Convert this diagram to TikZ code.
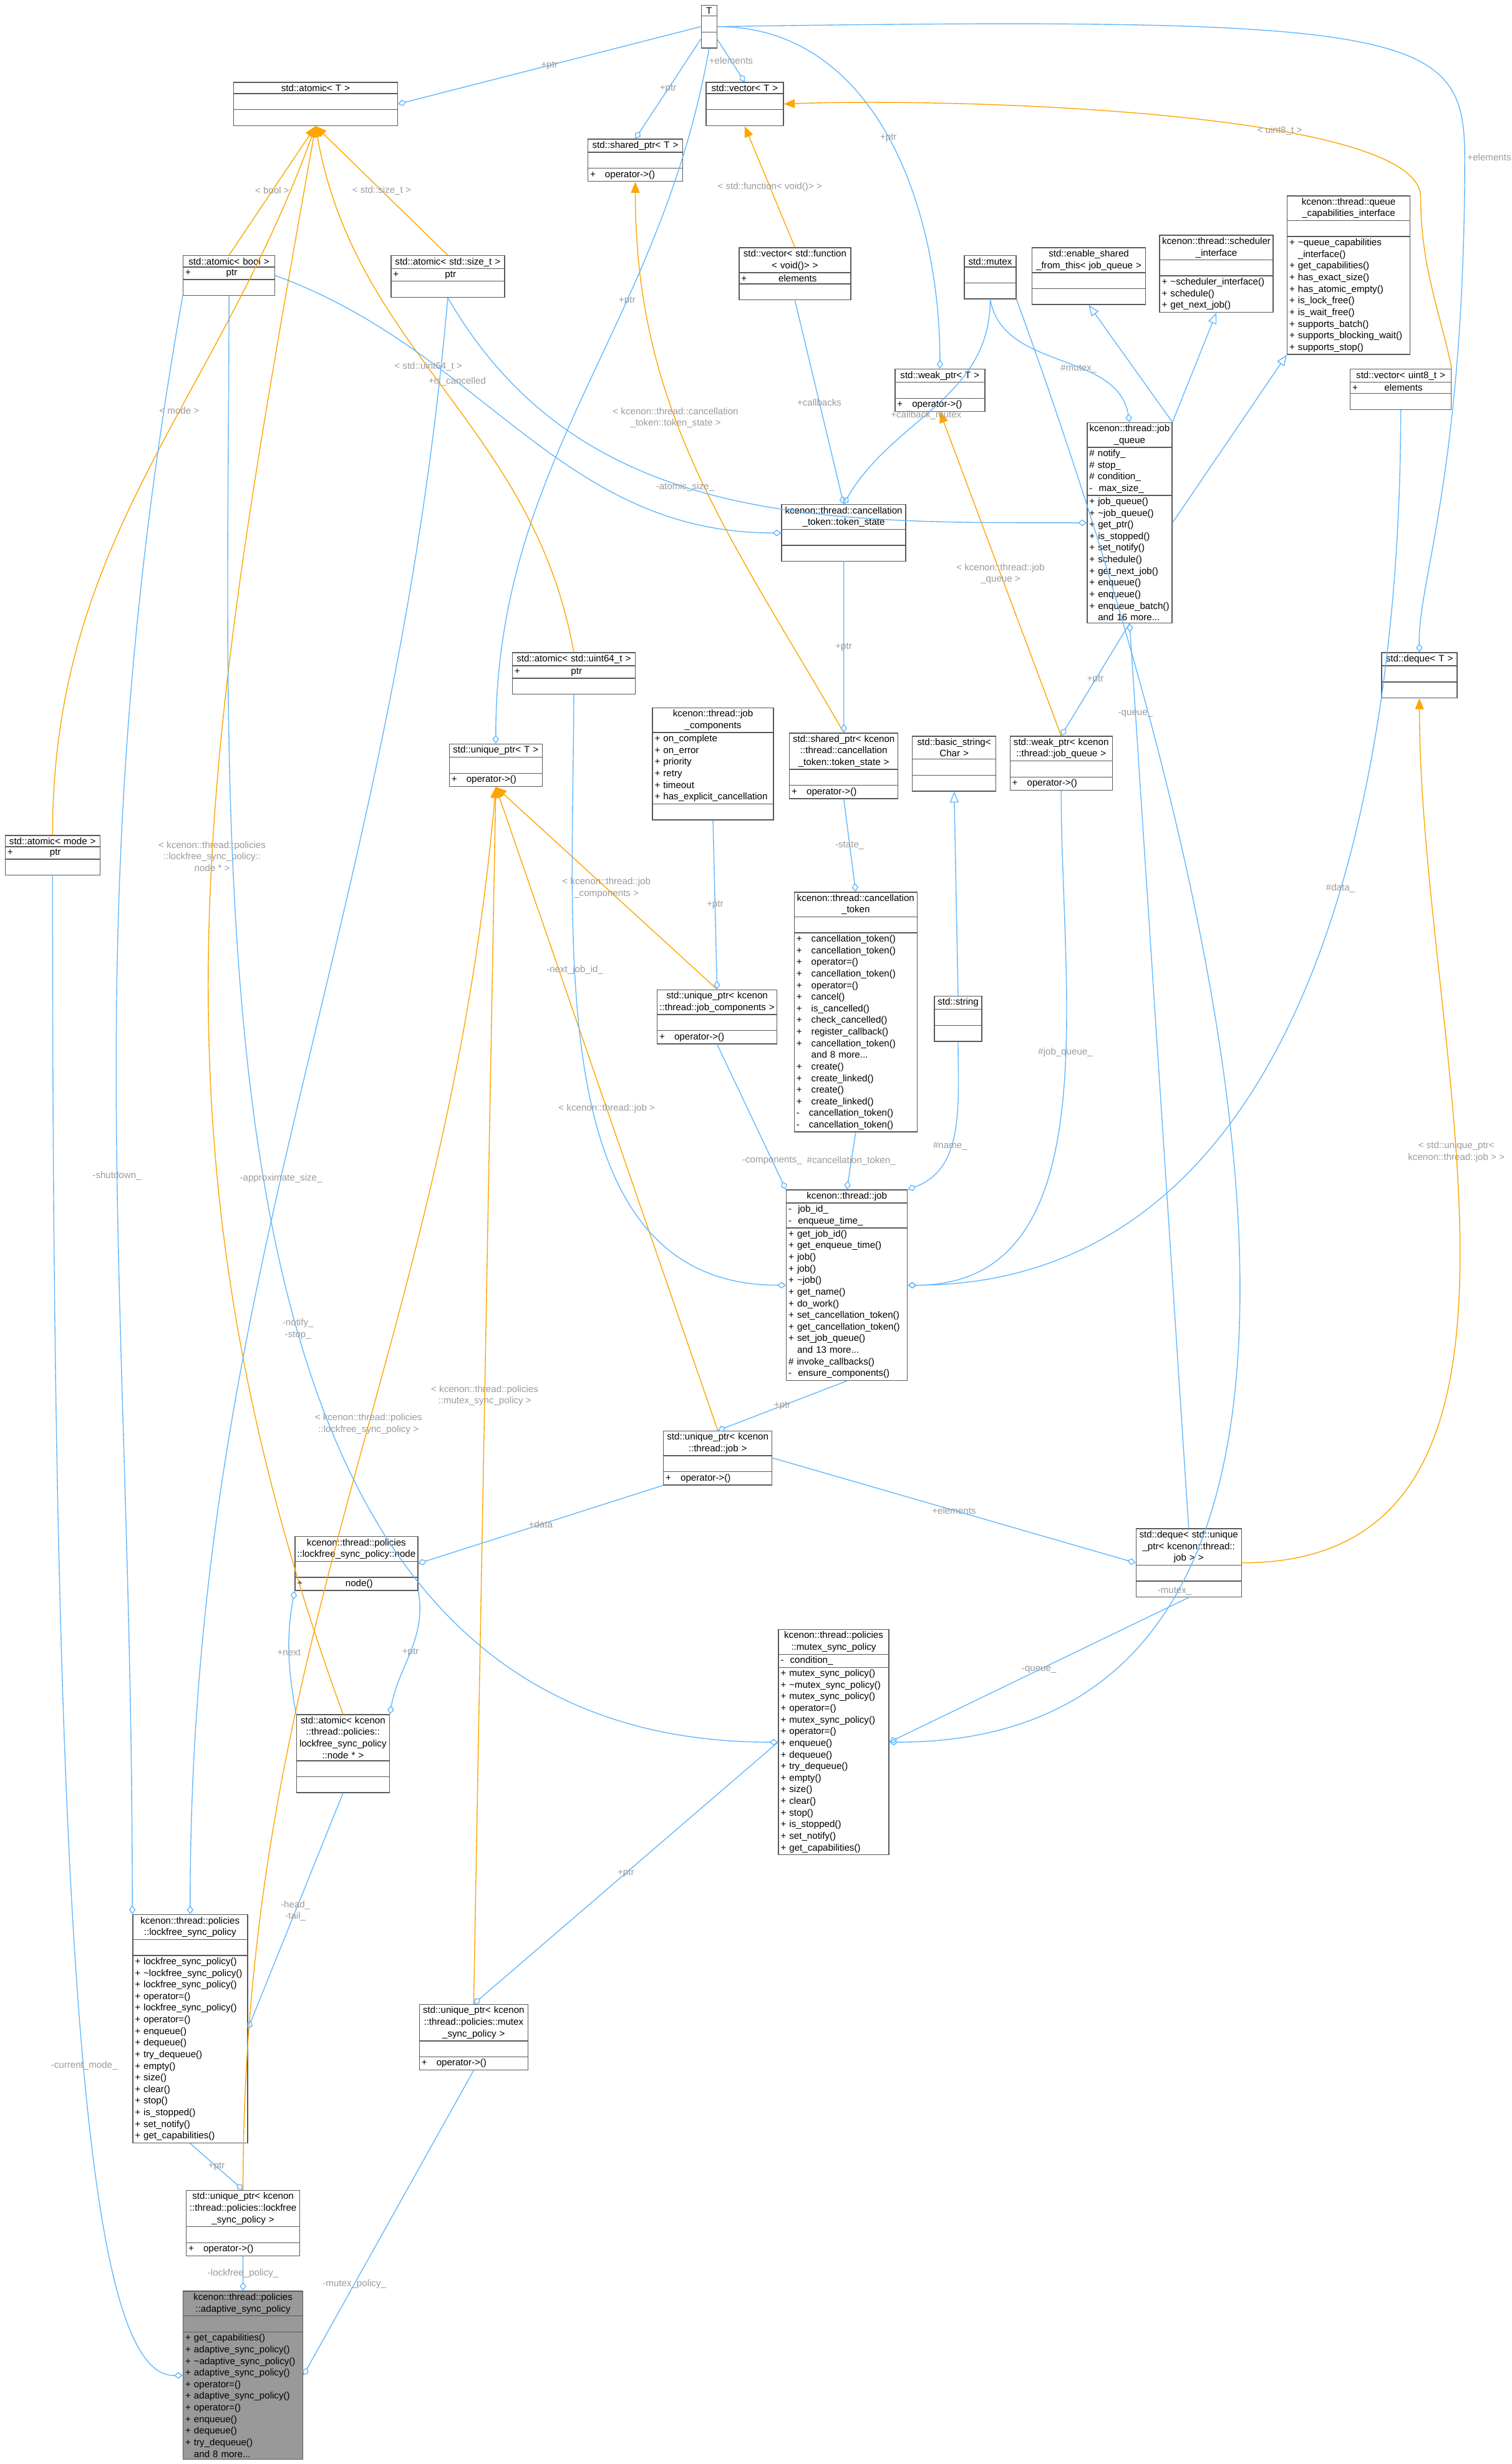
\documentclass[tikz,border=0pt]{standalone}
\usepackage{fontspec}
\setmainfont{Liberation Sans}
\usetikzlibrary{shapes.multipart,arrows.meta}
\definecolor{edgeblue}{HTML}{63B8FF}
\definecolor{edgeorange}{HTML}{FFA500}
\definecolor{lblgrey}{HTML}{9A9A9A}
\tikzset{
  cls/.style={rectangle split, rectangle split parts=3, draw=black!65, fill=white,
    anchor=north west, inner xsep=1pt, inner ysep=0.8pt,
    font=\fontsize{4.3}{5.3}\selectfont},
  has/.style={draw=edgeblue, -{Diamond[open,length=4pt,width=3pt]}},
  inst/.style={draw=edgeorange, -{Triangle[length=5pt,width=4pt]}},
  isa/.style={draw=edgeblue, -{Triangle[open,length=5pt,width=4pt]}},
  lbl/.style={text=lblgrey, font=\fontsize{4.3}{5.3}\selectfont, align=center, inner sep=1pt}
}
\begin{document}
\begin{tikzpicture}[x=0.02525cm,y=-0.02525cm]
  \useasboundingbox (0,0) rectangle (960,1564);
  % classes
  \node[cls,text width=0.18cm] (T) at (445,3) {\centering T\par\nodepart{second}\strut\nodepart{third}\strut};
  \node[cls,text width=2.56cm] (atomT) at (148,52) {\centering std::atomic< T >\par\nodepart{second}\strut\nodepart{third}\strut};
  \node[cls,text width=1.17cm] (vecT) at (448,52) {\centering std::vector< T >\par\nodepart{second}\strut\nodepart{third}\strut};
  \node[cls,text width=1.45cm] (shT) at (373,88) {\centering std::shared\_ptr< T >\par\nodepart{second}\strut\nodepart{third}+\quad operator->()};
  \node[cls,text width=1.40cm] (atBool) at (116,162) {\centering std::atomic< bool >\par\nodepart{second}+\hfill ptr\hfill\null\nodepart{third}\strut};
  \node[cls,text width=1.75cm] (atSize) at (248,162) {\centering std::atomic< std::size\_t >\par\nodepart{second}+\hfill ptr\hfill\null\nodepart{third}\strut};
  \node[cls,text width=1.72cm] (vecFn) at (469,157) {\centering std::vector< std::function\\< void()> >\par\nodepart{second}+\hfill elements\hfill\null\nodepart{third}\strut};
  \node[cls,text width=0.76cm] (mutex) at (612,162) {\centering std::mutex\par\nodepart{second}\strut\nodepart{third}\strut};
  \node[cls,text width=1.75cm] (esft) at (655,157) {\centering std::enable\_shared\\\_from\_this< job\_queue >\par\nodepart{second}\strut\nodepart{third}\strut};
  \node[cls,text width=1.75cm] (sched) at (736,149) {\centering kcenon::thread::scheduler\\\_interface\par\nodepart{second}\strut\nodepart{third}+ \textasciitilde scheduler\_interface()\\+ schedule()\\+ get\_next\_job()};
  \node[cls,text width=1.90cm] (qcap) at (817,124) {\centering kcenon::thread::queue\\\_capabilities\_interface\par\nodepart{second}\strut\nodepart{third}+ \textasciitilde queue\_capabilities\\\hphantom{+ }\_interface()\\+ get\_capabilities()\\+ has\_exact\_size()\\+ has\_atomic\_empty()\\+ is\_lock\_free()\\+ is\_wait\_free()\\+ supports\_batch()\\+ supports\_blocking\_wait()\\+ supports\_stop()};
  \node[cls,text width=1.55cm] (vecU8) at (857,234) {\centering std::vector< uint8\_t >\par\nodepart{second}+\hfill elements\hfill\null\nodepart{third}\strut};
  \node[cls,text width=1.37cm] (wpT) at (568,234) {\centering std::weak\_ptr< T >\par\nodepart{second}\strut\nodepart{third}+\quad operator->()};
  \node[cls,text width=1.29cm] (jq) at (690,268) {\centering kcenon::thread::job\\\_queue\par\nodepart{second}\# notify\_\\\# stop\_\\\# condition\_\\- \ max\_size\_\nodepart{third}+ job\_queue()\\+ \textasciitilde job\_queue()\\+ get\_ptr()\\+ is\_stopped()\\+ set\_notify()\\+ schedule()\\+ get\_next\_job()\\+ enqueue()\\+ enqueue()\\+ enqueue\_batch()\\\hphantom{+ }and 16 more...};
  \node[cls,text width=1.92cm] (tstate) at (496,320) {\centering kcenon::thread::cancellation\\\_token::token\_state\par\nodepart{second}\strut\nodepart{third}\strut};
  \node[cls,text width=1.90cm] (atU64) at (325,414) {\centering std::atomic< std::uint64\_t >\par\nodepart{second}+\hfill ptr\hfill\null\nodepart{third}\strut};
  \node[cls,text width=1.14cm] (dqT) at (877,414) {\centering std::deque< T >\par\nodepart{second}\strut\nodepart{third}\strut};
  \node[cls,text width=1.87cm] (jcomp) at (414,449) {\centering kcenon::thread::job\\\_components\par\nodepart{second}+ on\_complete\\+ on\_error\\+ priority\\+ retry\\+ timeout\\+ has\_explicit\_cancellation\nodepart{third}\strut};
  \node[cls,text width=1.42cm] (upT) at (285,472) {\centering std::unique\_ptr< T >\par\nodepart{second}\strut\nodepart{third}+\quad operator->()};
  \node[cls,text width=1.67cm] (spTs) at (501,465) {\centering std::shared\_ptr< kcenon\\::thread::cancellation\\\_token::token\_state >\par\nodepart{second}\strut\nodepart{third}+\quad operator->()};
  \node[cls,text width=1.27cm] (bstr) at (579,467) {\centering std::basic\_string<\\Char >\par\nodepart{second}\strut\nodepart{third}\strut};
  \node[cls,text width=1.57cm] (wpJq) at (641,467) {\centering std::weak\_ptr< kcenon\\::thread::job\_queue >\par\nodepart{second}\strut\nodepart{third}+\quad operator->()};
  \node[cls,text width=1.45cm] (atMode) at (3,530) {\centering std::atomic< mode >\par\nodepart{second}+\hfill ptr\hfill\null\nodepart{third}\strut};
  \node[cls,text width=1.90cm] (ctok) at (504,566) {\centering kcenon::thread::cancellation\\\_token\par\nodepart{second}\strut\nodepart{third}+\quad cancellation\_token()\\+\quad cancellation\_token()\\+\quad operator=()\\+\quad cancellation\_token()\\+\quad operator=()\\+\quad cancel()\\+\quad is\_cancelled()\\+\quad check\_cancelled()\\+\quad register\_callback()\\+\quad cancellation\_token()\\\hphantom{+\quad }and 8 more...\\+\quad create()\\+\quad create\_linked()\\+\quad create()\\+\quad create\_linked()\\-\quad cancellation\_token()\\-\quad cancellation\_token()};
  \node[cls,text width=1.85cm] (upJc) at (417,628) {\centering std::unique\_ptr< kcenon\\::thread::job\_components >\par\nodepart{second}\strut\nodepart{third}+\quad operator->()};
  \node[cls,text width=0.69cm] (str) at (593,632) {\centering std::string\par\nodepart{second}\strut\nodepart{third}\strut};
  \node[cls,text width=1.87cm] (job) at (499,755) {\centering kcenon::thread::job\par\nodepart{second}- \ job\_id\_\\- \ enqueue\_time\_\nodepart{third}+ get\_job\_id()\\+ get\_enqueue\_time()\\+ job()\\+ job()\\+ \textasciitilde job()\\+ get\_name()\\+ do\_work()\\+ set\_cancellation\_token()\\+ get\_cancellation\_token()\\+ set\_job\_queue()\\\hphantom{+ }and 13 more...\\\# invoke\_callbacks()\\- \ ensure\_components()};
  \node[cls,text width=1.67cm] (upJob) at (421,908) {\centering std::unique\_ptr< kcenon\\::thread::job >\par\nodepart{second}\strut\nodepart{third}+\quad operator->()};
  \node[cls,text width=1.90cm] (node) at (187,975) {\centering kcenon::thread::policies\\::lockfree\_sync\_policy::node\par\nodepart{second}\strut\nodepart{third}+\hfill node()\hfill\null};
  \node[cls,text width=1.62cm] (dqJob) at (721,970) {\centering std::deque< std::unique\\\_ptr< kcenon::thread::\\job > >\par\nodepart{second}\strut\nodepart{third}\strut};
  \node[cls,text width=1.70cm] (msp) at (494,1034) {\centering kcenon::thread::policies\\::mutex\_sync\_policy\par\nodepart{second}- \ condition\_\nodepart{third}+ mutex\_sync\_policy()\\+ \textasciitilde mutex\_sync\_policy()\\+ mutex\_sync\_policy()\\+ operator=()\\+ mutex\_sync\_policy()\\+ operator=()\\+ enqueue()\\+ dequeue()\\+ try\_dequeue()\\+ empty()\\+ size()\\+ clear()\\+ stop()\\+ is\_stopped()\\+ set\_notify()\\+ get\_capabilities()};
  \node[cls,text width=1.42cm] (atNode) at (188,1088) {\centering std::atomic< kcenon\\::thread::policies::\\lockfree\_sync\_policy\\::node * >\par\nodepart{second}\strut\nodepart{third}\strut};
  \node[cls,text width=1.77cm] (lsp) at (84,1215) {\centering kcenon::thread::policies\\::lockfree\_sync\_policy\par\nodepart{second}\strut\nodepart{third}+ lockfree\_sync\_policy()\\+ \textasciitilde lockfree\_sync\_policy()\\+ lockfree\_sync\_policy()\\+ operator=()\\+ lockfree\_sync\_policy()\\+ operator=()\\+ enqueue()\\+ dequeue()\\+ try\_dequeue()\\+ empty()\\+ size()\\+ clear()\\+ stop()\\+ is\_stopped()\\+ set\_notify()\\+ get\_capabilities()};
  \node[cls,text width=1.67cm] (upMsp) at (266,1272) {\centering std::unique\_ptr< kcenon\\::thread::policies::mutex\\\_sync\_policy >\par\nodepart{second}\strut\nodepart{third}+\quad operator->()};
  \node[cls,text width=1.75cm] (upLsp) at (118,1390) {\centering std::unique\_ptr< kcenon\\::thread::policies::lockfree\\\_sync\_policy >\par\nodepart{second}\strut\nodepart{third}+\quad operator->()};
  \node[cls,text width=1.85cm,fill=black!40] (asp) at (116,1454) {\centering kcenon::thread::policies\\::adaptive\_sync\_policy\par\nodepart{second}\strut\nodepart{third}+ get\_capabilities()\\+ adaptive\_sync\_policy()\\+ \textasciitilde adaptive\_sync\_policy()\\+ adaptive\_sync\_policy()\\+ operator=()\\+ adaptive\_sync\_policy()\\+ operator=()\\+ enqueue()\\+ dequeue()\\+ try\_dequeue()\\\hphantom{+ }and 8 more...};
  \coordinate (tbend) at (930,100);
  \coordinate (ubend) at (902,125);

  % template parameter T
  \draw[has] (T.west) -- node[lbl]{+ptr} (atomT.east);
  \draw[has] (T) -- node[lbl]{+ptr} (shT.north);
  \draw[has] (T) -- node[lbl]{+elements} (vecT.north);
  \draw[has] (T.east) to[out=0,in=90] node[lbl,pos=0.5]{+ptr} (wpT.north);
  \draw[has] (T.south) to[out=-100,in=90] node[lbl,pos=0.35]{+ptr} (upT.north);
  \draw[has] (T.east) .. controls (900,10) and (930,20) .. (tbend) node[lbl,right]{+elements} .. controls (930,300) and (900,370) .. (dqT.north);

  % template instances
  \draw[inst] (atBool.north) -- node[lbl]{< bool >} (atomT.south);
  \draw[inst] (atSize.north) -- node[lbl]{< std::size\_t >} (atomT.south);
  \draw[inst] (atU64.north) to[out=100,in=-80] node[lbl,pos=0.55]{< std::uint64\_t >} (atomT.south);
  \draw[inst] (atMode.north) to[out=90,in=-110] node[lbl,pos=0.6]{< mode >} (atomT.south);
  \draw[inst] (atNode.north) to[out=110,in=-100] node[lbl,pos=0.55]{< kcenon::thread::policies\\::lockfree\_sync\_policy::\\node * >} (atomT.south);
  \draw[inst] (vecFn.north) -- node[lbl]{< std::function< void()> >} (vecT.south);
  \draw[inst] (vecU8.north east) .. controls (915,200) and (902,170) .. (ubend) .. controls (902,70) and (600,62) .. node[lbl,pos=0.35]{< uint8\_t >} (vecT.east);
  \draw[inst] (spTs.north) to[out=120,in=-90] node[lbl,pos=0.6]{< kcenon::thread::cancellation\\\_token::token\_state >} (shT.south);
  \draw[inst] (wpJq.north) -- node[lbl]{< kcenon::thread::job\\\_queue >} (wpT.south);
  \draw[inst] (upJc.north) -- node[lbl]{< kcenon::thread::job\\\_components >} (upT.south);
  \draw[inst] (upJob.north) -- node[lbl]{< kcenon::thread::job >} (upT.south);
  \draw[inst] (upMsp.north) -- node[lbl]{< kcenon::thread::policies\\::mutex\_sync\_policy >} (upT.south);
  \draw[inst] (upLsp.north) to[out=90,in=-95] node[lbl,pos=0.55]{< kcenon::thread::policies\\::lockfree\_sync\_policy >} (upT.south);
  \draw[inst] (dqJob.east) to[out=0,in=-90] node[lbl,pos=0.6]{< std::unique\_ptr<\\kcenon::thread::job > >} (dqT.south);

  % base classes
  \draw[isa] (jq.north east) -- (esft.south);
  \draw[isa] (jq.north east) -- (sched.south);
  \draw[isa] (jq.east) -- (qcap.south west);
  \draw[isa] (str.north) -- (bstr.south);

  % members
  \draw[has] (atBool.east) to[out=-20,in=180] node[lbl,pos=0.35]{+is\_cancelled} (tstate.west);
  \draw[has] (atSize.south) to[out=-60,in=180] node[lbl,pos=0.45]{-atomic\_size\_} (jq.west);
  \draw[has] (atBool.south west) to[out=-100,in=90] node[lbl,pos=0.55]{-shutdown\_} (lsp.north west);
  \draw[has] (atBool.south) to[out=-90,in=180] node[lbl,pos=0.55]{-notify\_\\-stop\_} (msp.west);
  \draw[has] (atSize.south) to[out=-95,in=90] node[lbl,pos=0.55]{-approximate\_size\_} (lsp.north);
  \draw[has] (vecFn.south) -- node[lbl]{+callbacks} (tstate.north);
  \draw[has] (mutex.south) to[out=-90,in=60] node[lbl,pos=0.55]{+callback\_mutex} (tstate.north);
  \draw[has] (mutex.south) to[out=-80,in=100] node[lbl,pos=0.6]{\#mutex\_} (jq.north);
  \draw[has] (mutex.south east) to[out=-70,in=0] node[lbl,pos=0.75]{-mutex\_} (msp.east);
  \draw[has] (vecU8.south) to[out=-90,in=0] node[lbl,pos=0.4]{\#data\_} (job.east);
  \draw[has] (tstate.south) -- node[lbl]{+ptr} (spTs.north);
  \draw[has] (spTs.south) -- node[lbl]{-state\_} (ctok.north);
  \draw[has] (jq.south) -- node[lbl]{+ptr} (wpJq.north);
  \draw[has] (wpJq.south) to[out=-90,in=0] node[lbl,pos=0.4]{\#job\_queue\_} (job.east);
  \draw[has] (dqJob.north) -- node[lbl,pos=0.9]{-queue\_} (jq.south);
  \draw[has] (atU64.south) to[out=-90,in=180] node[lbl,pos=0.35]{-next\_job\_id\_} (job.west);
  \draw[has] (jcomp.south) -- node[lbl]{+ptr} (upJc.north);
  \draw[has] (upJc.south) -- node[lbl,pos=0.8]{-components\_} (job.north west);
  \draw[has] (ctok.south) -- node[lbl]{\#cancellation\_token\_} (job.north);
  \draw[has] (str.south) to[out=-90,in=20] node[lbl,pos=0.6]{\#name\_} (job.north east);
  \draw[has] (job.south) -- node[lbl]{+ptr} (upJob.north);
  \draw[has] (upJob.south west) -- node[lbl]{+data} (node.east);
  \draw[has] (upJob.east) -- node[lbl]{+elements} (dqJob.west);
  \draw[has] (dqJob.south) -- node[lbl]{-queue\_} (msp.east);
  \draw[has] (node.south east) to[out=-80,in=80] node[lbl]{+ptr} (atNode.north east);
  \draw[has] (atNode.north west) to[out=100,in=-100] node[lbl]{+next} (node.south west);
  \draw[has] (atNode.south) -- node[lbl]{-head\_\\-tail\_} (lsp.east);
  \draw[has] (lsp.south) -- node[lbl]{+ptr} (upLsp.north);
  \draw[has] (msp.west) -- node[lbl]{+ptr} (upMsp.north);
  \draw[has] (upLsp.south) -- node[lbl]{-lockfree\_policy\_} (asp.north);
  \draw[has] (upMsp.south) -- node[lbl,pos=0.7]{-mutex\_policy\_} (asp.east);
  \draw[has] (atMode.south) .. controls (33,1300) and (60,1509) .. node[lbl,pos=0.5]{-current\_mode\_} (asp.west);
\end{tikzpicture}
\end{document}
